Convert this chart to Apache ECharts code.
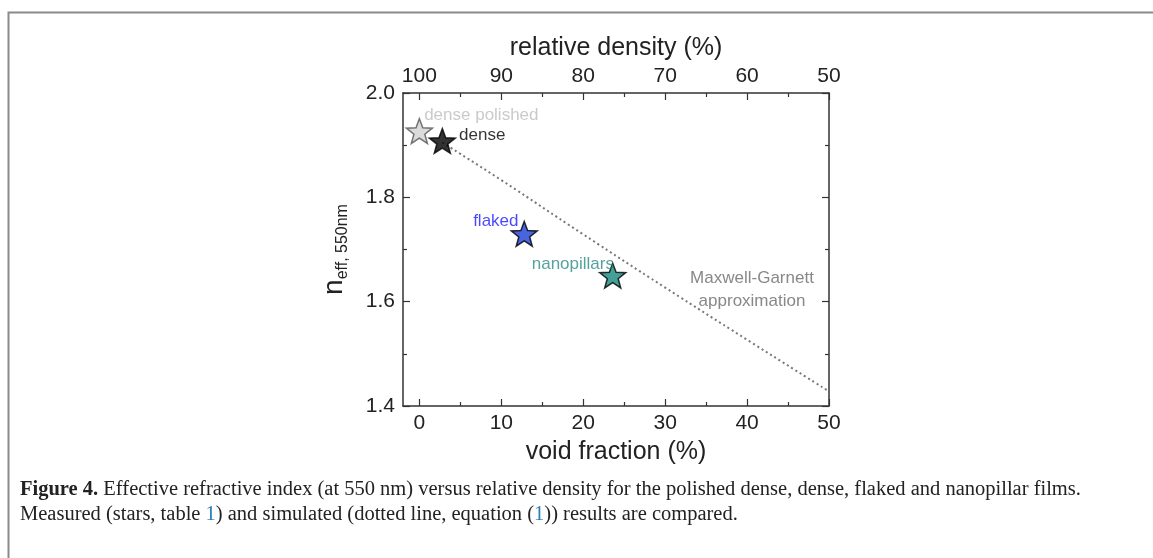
<!DOCTYPE html>
<html>
<head>
<meta charset="utf-8">
<script src="https://cdn.jsdelivr.net/npm/echarts@6/dist/echarts.min.js"></script>
<style>
  html, body { margin: 0; padding: 0; background: #fff; }
  #chart { width: 1153px; height: 558px; }
</style>
</head>
<body>
<div id="chart"></div>
<script>
'use strict';
// measured films (stars)
const sampleNames = ['dense polished', 'dense', 'flaked', 'nanopillars'];
const sampleVoid = [0, 2.8, 12.8, 23.6];
const sampleIndex = [1.927, 1.908, 1.730, 1.650];

// Maxwell-Garnett approximation (dotted line)
const mgVoid = [2.8, 10, 20, 30, 40, 50];
const mgIndex = [1.905, 1.833, 1.729, 1.627, 1.527, 1.428];

// tick labels
const voidTicks = [0, 10, 20, 30, 40, 50];
const voidMinor = [5, 15, 25, 35, 45];
const densityTicks = [100, 90, 80, 70, 60, 50];
const densityMinor = [95, 85, 75, 65, 55];

const starFill = ['#d2d2d2', '#000000', '#1c3fd6', '#17877f'];
const starBorder = ['#555555', '#000000', '#000000', '#000000'];
const labelColor = ['#bdbdbd', '#000000', '#1a1aff', '#2a8a86'];
// label placement relative to the star
const labelPlace = [
    { position: 'right', offset: [-9, -16] },
    { position: 'right', offset: [3, -6] },
    { position: 'left', offset: [8, -13] },
    { position: 'left', offset: [15, -11] }
];

const starPath = (() => {
    let p = '';
    for (let i = 0; i < 10; i++) {
        const r = i % 2 ? 0.42 : 1;
        const a = -Math.PI / 2 + i * Math.PI / 5;
        p += (i ? 'L' : 'M') + (50 + 50 * r * Math.cos(a)).toFixed(2) + ' ' + (50 + 50 * r * Math.sin(a)).toFixed(2);
    }
    return 'path://' + p + 'Z';
})();

const FONT = 'Liberation Sans, Arial, sans-serif';
const SERIF = 'Liberation Serif, Times New Roman, serif';
const AXIS_COLOR = '#333';
const tickStyle = { color: AXIS_COLOR, width: 1.2 };

const xBase = {
    type: 'value',
    min: -2,
    max: 50,
    splitLine: { show: false }
};

const chart = echarts.init(document.getElementById('chart'));
chart.setOption({
    animation: false,
    backgroundColor: '#fff',
    grid: { left: 403, right: 324, top: 93, bottom: 152, outerBoundsMode: 'none' },
    xAxis: [
        Object.assign({}, xBase, {
            position: 'bottom',
            name: 'void fraction (%)',
            nameLocation: 'middle',
            nameGap: 34,
            nameTextStyle: { fontFamily: FONT, fontSize: 25, color: '#222' },
            axisLine: { onZero: false, lineStyle: { color: AXIS_COLOR, width: 1.5 } },
            axisTick: { inside: true, length: 7, customValues: voidTicks, lineStyle: tickStyle },
            axisLabel: { customValues: voidTicks, margin: 7, fontFamily: FONT, fontSize: 21, color: '#222' }
        }),
        {
            type: 'value',
            position: 'top',
            min: 50,
            max: 102,
            inverse: true,
            splitLine: { show: false },
            name: 'relative density (%)',
            nameLocation: 'middle',
            nameGap: 31,
            nameTextStyle: { fontFamily: FONT, fontSize: 25, color: '#222' },
            axisLine: { onZero: false, lineStyle: { color: AXIS_COLOR, width: 1.5 } },
            axisTick: { inside: true, length: 7, customValues: densityTicks, lineStyle: tickStyle },
            axisLabel: { customValues: densityTicks, margin: 6, fontFamily: FONT, fontSize: 21, color: '#222' }
        },
        Object.assign({}, xBase, {
            position: 'bottom',
            axisLine: { show: false, onZero: false },
            axisTick: { inside: true, length: 4, customValues: voidMinor, lineStyle: tickStyle },
            axisLabel: { show: false }
        }),
        {
            type: 'value',
            position: 'top',
            min: 50,
            max: 102,
            inverse: true,
            splitLine: { show: false },
            axisLine: { show: false, onZero: false },
            axisTick: { inside: true, length: 4, customValues: densityMinor, lineStyle: tickStyle },
            axisLabel: { show: false }
        }
    ],
    yAxis: [
        {
            type: 'value',
            position: 'left',
            min: 1.4,
            max: 2.0,
            interval: 0.2,
            splitLine: { show: false },
            name: '{n|n}{s|eff, 550nm}',
            nameLocation: 'middle',
            nameGap: 52,
            nameRotate: 90,
            nameTextStyle: {
                fontFamily: FONT,
                color: '#222',
                rich: {
                    n: { fontFamily: FONT, fontSize: 28, color: '#222' },
                    s: { fontFamily: FONT, fontSize: 16, color: '#222', padding: [18, 0, 0, 0] }
                }
            },
            axisLine: { onZero: false, lineStyle: { color: AXIS_COLOR, width: 1.5 } },
            axisTick: { inside: true, length: 7, lineStyle: tickStyle },
            minorTick: { show: true, splitNumber: 2, length: 4, lineStyle: tickStyle },
            axisLabel: { margin: 8, fontFamily: FONT, fontSize: 21, color: '#222', formatter: v => v.toFixed(1) }
        },
        {
            type: 'value',
            position: 'right',
            min: 1.4,
            max: 2.0,
            interval: 0.2,
            splitLine: { show: false },
            axisLine: { onZero: false, lineStyle: { color: AXIS_COLOR, width: 1.5 } },
            axisTick: { inside: true, length: 7, lineStyle: tickStyle },
            minorTick: { show: true, splitNumber: 2, length: 4, lineStyle: tickStyle },
            axisLabel: { show: false }
        }
    ],
    series: [
        {
            name: 'Maxwell-Garnett',
            type: 'line',
            xAxisIndex: 0,
            yAxisIndex: 0,
            data: mgVoid.map((v, i) => [v, mgIndex[i]]),
            showSymbol: false,
            smooth: true,
            lineStyle: { color: '#777', width: 2, type: [2, 3] },
            z: 2
        },
        {
            name: 'films',
            type: 'scatter',
            xAxisIndex: 0,
            yAxisIndex: 0,
            symbol: starPath,
            symbolSize: 26,
            symbolKeepAspect: true,
            data: sampleNames.map((name, i) => ({
                name: name,
                value: [sampleVoid[i], sampleIndex[i]],
                itemStyle: { color: starFill[i], borderColor: starBorder[i], borderWidth: 1.5 },
                label: {
                    show: true,
                    formatter: '{b}',
                    distance: 0,
                    position: labelPlace[i].position,
                    offset: labelPlace[i].offset,
                    fontFamily: FONT,
                    fontSize: 17,
                    color: labelColor[i]
                }
            })),
            z: 3
        }
    ],
    graphic: [
        {
            type: 'polyline',
            shape: { points: [[8.5, 558], [8.5, 12.5], [1153, 12.5]] },
            style: { stroke: '#8a8a8a', lineWidth: 2, fill: null },
            silent: true
        },
        {
            type: 'text',
            x: 752,
            y: 267,
            style: {
                text: 'Maxwell-Garnett\napproximation',
                align: 'center',
                fontFamily: FONT,
                fontSize: 17,
                lineHeight: 23,
                fill: '#888'
            }
        },
        {
            type: 'text',
            x: 20,
            y: 477,
            style: {
                text: '{b|Figure 4.} Effective refractive index (at 550 nm) versus relative density for the polished dense, dense, flaked and nanopillar films.\n' +
                      'Measured (stars, table {l|1}) and simulated (dotted line, equation ({l|1})) results are compared.',
                fontFamily: SERIF,
                fontSize: 20.5,
                lineHeight: 25,
                fill: '#222',
                rich: {
                    b: { fontFamily: SERIF, fontSize: 20.5, fontWeight: 'bold', fill: '#222' },
                    l: { fontFamily: SERIF, fontSize: 20.5, fill: '#2a7db8' }
                }
            }
        }
    ]
});
</script>
</body>
</html>
